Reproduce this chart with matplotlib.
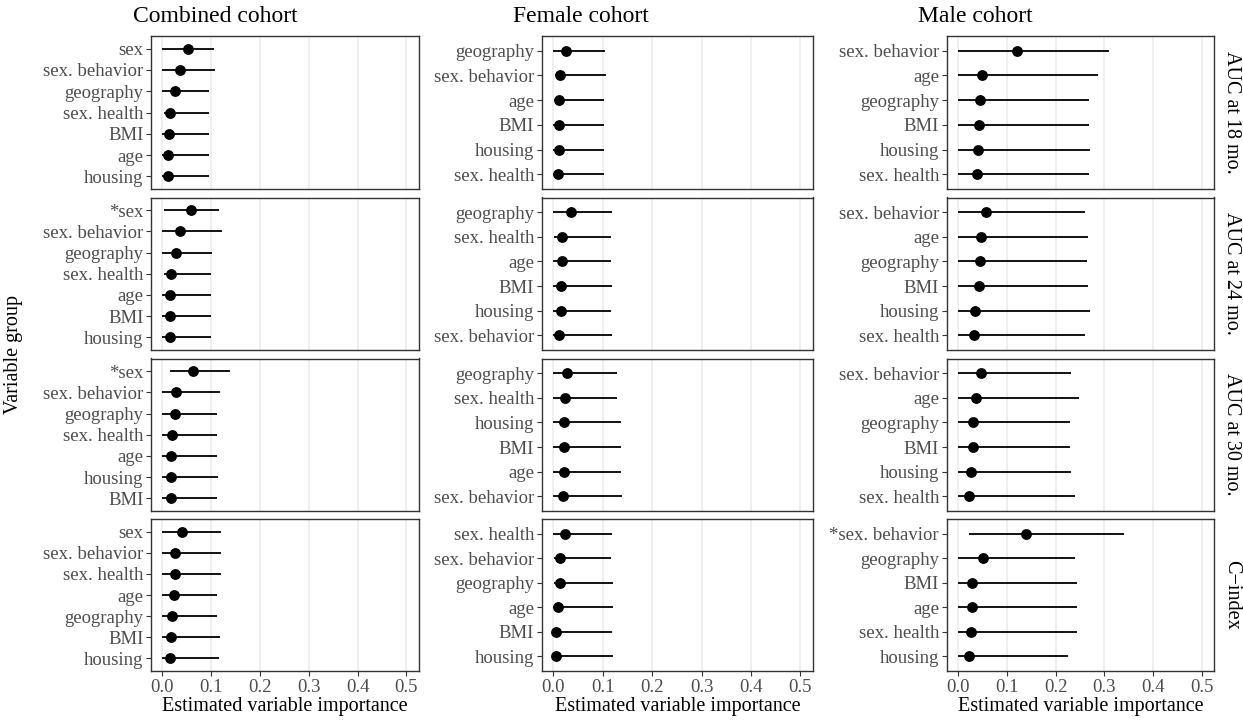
import matplotlib
matplotlib.use("Agg")
import matplotlib.pyplot as plt

plt.rcParams['font.family'] = ['Liberation Serif', 'DejaVu Serif']

cohorts = ["Combined cohort", "Female cohort", "Male cohort"]
outcomes = ["AUC at 18 mo.", "AUC at 24 mo.", "AUC at 30 mo.", "C\u2212index"]

# each panel: labels top -> bottom, estimates, lower and upper CI
comb18_lab = ["sex", "sex. behavior", "geography", "sex. health", "BMI", "age", "housing"]
comb18_est = [0.052, 0.036, 0.025, 0.016, 0.014, 0.012, 0.012]
comb18_lo = [0.0, 0.0, 0.0, 0.003, 0.0, 0.0, 0.0]
comb18_hi = [0.105, 0.107, 0.096, 0.096, 0.096, 0.096, 0.095]

comb24_lab = ["*sex", "sex. behavior", "geography", "sex. health", "age", "BMI", "housing"]
comb24_est = [0.059, 0.036, 0.028, 0.017, 0.016, 0.016, 0.015]
comb24_lo = [0.003, 0.0, 0.0, 0.003, 0.0, 0.0, 0.0]
comb24_hi = [0.116, 0.122, 0.101, 0.100, 0.100, 0.100, 0.100]

comb30_lab = ["*sex", "sex. behavior", "geography", "sex. health", "age", "housing", "BMI"]
comb30_est = [0.0635, 0.027, 0.025, 0.019, 0.018, 0.017, 0.017]
comb30_lo = [0.015, 0.0, 0.0, 0.0, 0.0, 0.0, 0.0]
comb30_hi = [0.139, 0.118, 0.112, 0.112, 0.112, 0.113, 0.112]

combc_lab = ["sex", "sex. behavior", "sex. health", "age", "geography", "BMI", "housing"]
combc_est = [0.041, 0.026, 0.025, 0.024, 0.0205, 0.017, 0.016]
combc_lo = [0.0, 0.0, 0.0, 0.0, 0.0, 0.0, 0.0]
combc_hi = [0.120, 0.120, 0.120, 0.112, 0.112, 0.119, 0.116]

fem18_lab = ["geography", "sex. behavior", "age", "BMI", "housing", "sex. health"]
fem18_est = [0.025, 0.0135, 0.012, 0.011, 0.011, 0.010]
fem18_lo = [0.0, 0.004, 0.002, 0.0, 0.0, 0.0]
fem18_hi = [0.105, 0.106, 0.103, 0.103, 0.103, 0.103]

fem24_lab = ["geography", "sex. health", "age", "BMI", "housing", "sex. behavior"]
fem24_est = [0.035, 0.018, 0.017, 0.016, 0.0155, 0.012]
fem24_lo = [0.0, 0.002, 0.0, 0.0, 0.0, 0.0]
fem24_hi = [0.118, 0.116, 0.117, 0.118, 0.117, 0.118]

fem30_lab = ["geography", "sex. health", "housing", "BMI", "age", "sex. behavior"]
fem30_est = [0.027, 0.0235, 0.0215, 0.021, 0.021, 0.020]
fem30_lo = [0.0, 0.0, 0.0, 0.0, 0.0, 0.0]
fem30_hi = [0.129, 0.129, 0.136, 0.136, 0.136, 0.139]

femc_lab = ["sex. health", "sex. behavior", "geography", "age", "BMI", "housing"]
femc_est = [0.0235, 0.014, 0.0135, 0.0095, 0.0055, 0.005]
femc_lo = [0.0, 0.001, 0.001, 0.0, 0.0, 0.0]
femc_hi = [0.118, 0.116, 0.120, 0.120, 0.118, 0.120]

male18_lab = ["sex. behavior", "age", "geography", "BMI", "housing", "sex. health"]
male18_est = [0.120, 0.0485, 0.044, 0.042, 0.040, 0.038]
male18_lo = [0.0, 0.0, 0.0, 0.0, 0.0, 0.0]
male18_hi = [0.309, 0.288, 0.269, 0.269, 0.271, 0.269]

male24_lab = ["sex. behavior", "age", "geography", "BMI", "housing", "sex. health"]
male24_est = [0.057, 0.047, 0.044, 0.042, 0.0355, 0.0335]
male24_lo = [0.0, 0.0, 0.0, 0.0, 0.0, 0.0]
male24_hi = [0.260, 0.267, 0.264, 0.266, 0.270, 0.261]

male30_lab = ["sex. behavior", "age", "geography", "BMI", "housing", "sex. health"]
male30_est = [0.046, 0.0375, 0.031, 0.031, 0.027, 0.0225]
male30_lo = [0.0, 0.0, 0.0, 0.0, 0.0, 0.0]
male30_hi = [0.232, 0.248, 0.230, 0.229, 0.2315, 0.239]

malec_lab = ["*sex. behavior", "geography", "BMI", "age", "sex. health", "housing"]
malec_est = [0.140, 0.0505, 0.029, 0.0287, 0.0266, 0.022]
malec_lo = [0.0225, 0.0, 0.0, 0.0, 0.0, 0.0]
malec_hi = [0.3415, 0.240, 0.244, 0.244, 0.244, 0.2247]

panels = [
    [(comb18_lab, comb18_est, comb18_lo, comb18_hi), (fem18_lab, fem18_est, fem18_lo, fem18_hi), (male18_lab, male18_est, male18_lo, male18_hi)],
    [(comb24_lab, comb24_est, comb24_lo, comb24_hi), (fem24_lab, fem24_est, fem24_lo, fem24_hi), (male24_lab, male24_est, male24_lo, male24_hi)],
    [(comb30_lab, comb30_est, comb30_lo, comb30_hi), (fem30_lab, fem30_est, fem30_lo, fem30_hi), (male30_lab, male30_est, male30_lo, male30_hi)],
    [(combc_lab, combc_est, combc_lo, combc_hi), (femc_lab, femc_est, femc_lo, femc_hi), (malec_lab, malec_est, malec_lo, malec_hi)],
]

W, H = 1243, 721
fig = plt.figure(figsize=(W / 100, H / 100), dpi=100)

col_lr = [(151, 419), (541.7, 813.3), (946.7, 1214.3)]
row_tb = [(36, 189), (197.5, 350), (358.5, 511), (519, 671)]
xt = [0.0, 0.1, 0.2, 0.3, 0.4, 0.5]
border = "#333333"
txtgrey = "#4D4D4D"

for r in range(4):
    for c in range(3):
        l, rr = col_lr[c]
        t, b = row_tb[r]
        ax = fig.add_axes([l / W, 1 - b / H, (rr - l) / W, (b - t) / H])
        lab, est, lo, hi = panels[r][c]
        n = len(lab)
        y = list(range(n, 0, -1))
        ax.hlines(y, lo, hi, color="black", lw=1.3, zorder=3)
        ax.scatter(est, y, s=46, color="black", zorder=4)
        ax.set_xlim(-0.0235, 0.526)
        ax.set_ylim(0.4, n + 0.6)
        ax.set_yticks(y)
        ax.set_yticklabels(lab, fontsize=13.5, color=txtgrey)
        ax.set_xticks(xt)
        for xv in xt:
            ax.axvline(xv, color="#EBEBEB", lw=1.1, zorder=0)
        ax.tick_params(axis="both", length=3.5, width=0.8, color=border, pad=2)
        for sp in ax.spines.values():
            sp.set_color(border)
            sp.set_linewidth(1.0)
        if r == 3:
            ax.set_xticklabels(["0.0", "0.1", "0.2", "0.3", "0.4", "0.5"], fontsize=13.5, color=txtgrey)
            ax.set_xlabel("Estimated variable importance", fontsize=14.5, labelpad=1)
        else:
            ax.set_xticklabels([])
            ax.tick_params(axis="x", length=0)
        if c == 2:
            ax.text(1.03, 0.5, outcomes[r], transform=ax.transAxes, rotation=-90,
                    ha="left", va="center", fontsize=14.5)

title_x = [133, 513, 918]
for c in range(3):
    fig.text(title_x[c] / W, 1 - 16 / H, cohorts[c], fontsize=17, ha="left", va="center")

fig.text(14 / W, 1 - 355 / H, "Variable group", rotation=90, fontsize=14.5, ha="center", va="center")

fig.savefig("out.png", dpi=100)
